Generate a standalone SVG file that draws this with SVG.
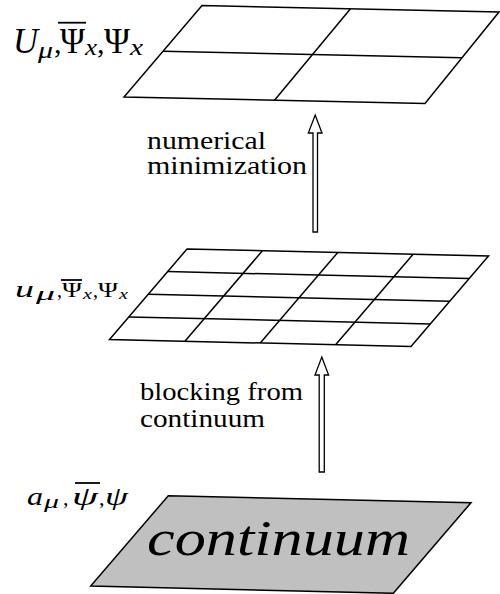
<svg xmlns="http://www.w3.org/2000/svg" width="500" height="594" viewBox="0 0 500 594">
<style>
.plane{fill:#fff;stroke:#000;stroke-width:1.5;stroke-linejoin:miter}
.shade{fill:#c0c0c0}
.gl{stroke:#000;stroke-width:1.5;fill:none}
.arr{fill:#fff;stroke:#000;stroke-width:1.3;stroke-linejoin:miter}
.t{fill:#000;font-family:"Liberation Serif","DejaVu Serif",serif}
.i{font-style:italic}
.ov{stroke:#000;stroke-width:1.8}
</style>
<rect width="500" height="594" fill="#fff"/>
<g id="node-top">
<polygon class="plane" points="202,5.5 499,12 425,103.5 124,97"/>
<line class="gl" x1="163" y1="51.25" x2="462" y2="57.75"/>
<line class="gl" x1="350.5" y1="8.75" x2="274.5" y2="100.25"/>
<g id="label-top">
<text class="t i" x="13" y="53" font-size="35" textLength="25" lengthAdjust="spacingAndGlyphs">U</text>
<text class="t i" x="38" y="58" font-size="24" textLength="15" lengthAdjust="spacingAndGlyphs">μ</text>
<text class="t" x="54" y="53" font-size="30">,</text>
<line class="ov" x1="58" y1="22.7" x2="86" y2="22.7"/>
<text class="t" x="60" y="53" font-size="35" textLength="25" lengthAdjust="spacingAndGlyphs">Ψ</text>
<text class="t i" x="85" y="55" font-size="24" textLength="12" lengthAdjust="spacingAndGlyphs">x</text>
<text class="t" x="97" y="53" font-size="30">,</text>
<text class="t" x="104" y="53" font-size="35" textLength="26" lengthAdjust="spacingAndGlyphs">Ψ</text>
<text class="t i" x="130" y="55" font-size="24" textLength="13" lengthAdjust="spacingAndGlyphs">x</text>
</g>
</g>
<g id="node-middle">
<polygon class="plane" points="187,249 488.5,256 411,346.5 109.5,339.5"/>
<line class="gl" x1="167.6" y1="271.6" x2="469.1" y2="278.6"/>
<line class="gl" x1="148.25" y1="294.25" x2="449.75" y2="301.25"/>
<line class="gl" x1="128.9" y1="316.9" x2="430.4" y2="323.9"/>
<line class="gl" x1="262.4" y1="250.75" x2="184.9" y2="341.25"/>
<line class="gl" x1="337.75" y1="252.5" x2="260.25" y2="343"/>
<line class="gl" x1="413.1" y1="254.25" x2="335.6" y2="344.75"/>
<g id="label-middle">
<text class="t i" x="15" y="297" font-size="23" textLength="19" lengthAdjust="spacingAndGlyphs">u</text>
<text class="t i" x="36" y="300" font-size="18" textLength="19" lengthAdjust="spacingAndGlyphs">μ</text>
<text class="t" x="57" y="297" font-size="20">,</text>
<line class="ov" x1="61" y1="280" x2="82" y2="280"/>
<text class="t" x="62" y="297" font-size="21" textLength="20" lengthAdjust="spacingAndGlyphs">Ψ</text>
<text class="t i" x="83" y="299" font-size="15" textLength="9" lengthAdjust="spacingAndGlyphs">x</text>
<text class="t" x="93" y="297" font-size="20">,</text>
<text class="t" x="98" y="297" font-size="21" textLength="20" lengthAdjust="spacingAndGlyphs">Ψ</text>
<text class="t i" x="119" y="299" font-size="15" textLength="9" lengthAdjust="spacingAndGlyphs">x</text>
</g>
</g>
<g id="node-bottom">
<polygon class="plane shade" points="168.3,495.7 471,502.7 393.3,593.3 90.7,586"/>
<text class="t i" x="147" y="555" font-size="50" textLength="263" lengthAdjust="spacingAndGlyphs">continuum</text>
<g id="label-bottom">
<text class="t i" x="27" y="505" font-size="25" textLength="16" lengthAdjust="spacingAndGlyphs">a</text>
<text class="t i" x="44" y="508" font-size="18" textLength="15" lengthAdjust="spacingAndGlyphs">μ</text>
<text class="t" x="63" y="505" font-size="22">,</text>
<line class="ov" x1="75" y1="483" x2="100" y2="483"/>
<text class="t i" x="72" y="505" font-size="26" textLength="26" lengthAdjust="spacingAndGlyphs">ψ</text>
<text class="t" x="99" y="505" font-size="22">,</text>
<text class="t i" x="105" y="505" font-size="26" textLength="23" lengthAdjust="spacingAndGlyphs">ψ</text>
</g>
</g>
<g id="connectors">
<polygon class="arr" points="313,232 313,133 308.3,133 315.2,115 322,133 317.5,133 317.5,232"/>
<polygon class="arr" points="319.2,472 319.2,375 315,375 321.8,357 328.6,375 324.3,375 324.3,472"/>
<text class="t" x="147" y="149" font-size="25" textLength="119" lengthAdjust="spacingAndGlyphs">numerical</text>
<text class="t" x="147" y="173.5" font-size="25" textLength="160" lengthAdjust="spacingAndGlyphs">minimization</text>
<text class="t" x="140" y="400" font-size="25" textLength="163" lengthAdjust="spacingAndGlyphs">blocking from</text>
<text class="t" x="140" y="427" font-size="25" textLength="125" lengthAdjust="spacingAndGlyphs">continuum</text>
</g>
</svg>
